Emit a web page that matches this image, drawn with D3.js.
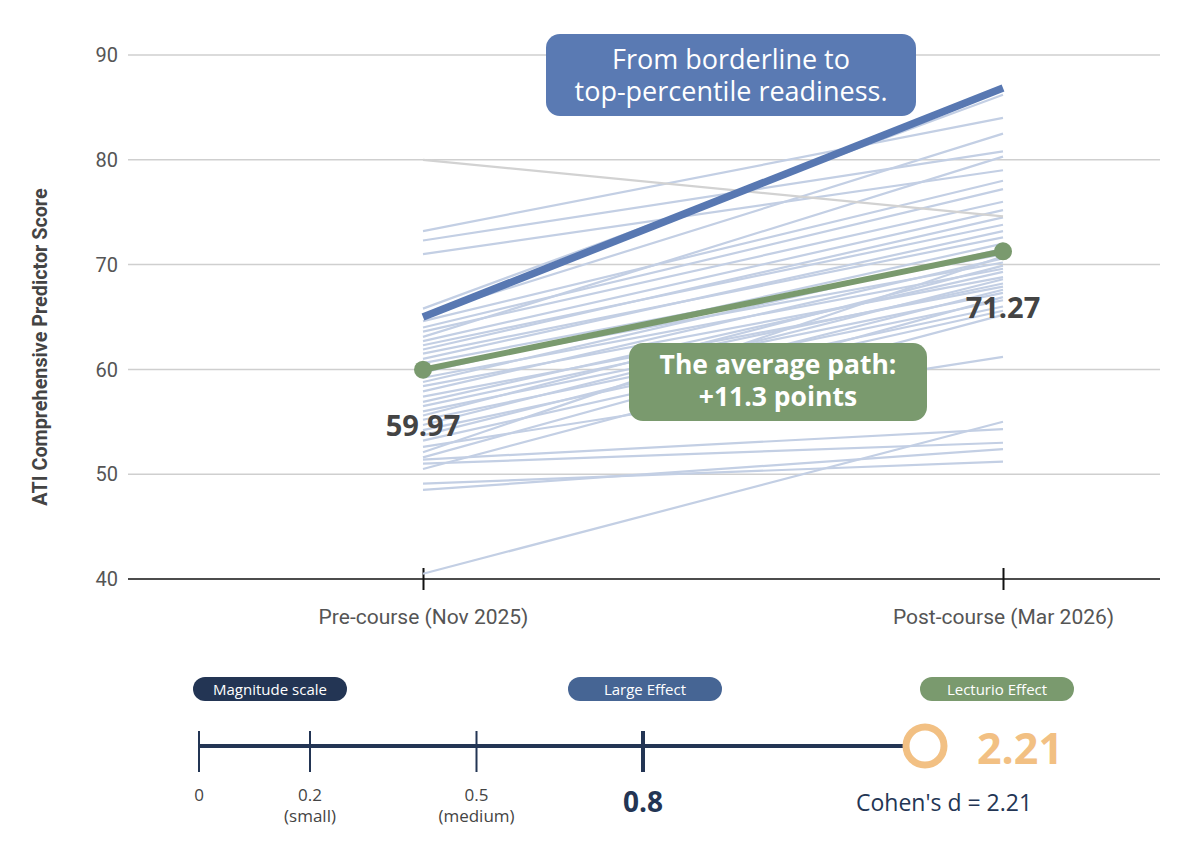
<!DOCTYPE html>
<html>
<head>
<meta charset="utf-8">
<script src="https://cdn.jsdelivr.net/npm/d3@7"></script>
<style>
  body { margin: 0; background: #fff; }
  svg { display: block; }
</style>
</head>
<body>
<svg id="chart" width="1189" height="849"></svg>
<script>
"use strict";

/*** DATA ***/

// time points
var periods = ["Pre-course (Nov 2025)", "Post-course (Mar 2026)"];

// individual students, pre and post scores
var preScores  = [73.2, 72.3, 71.0, 65.8, 65.2, 64.6, 64.0, 63.6, 63.1, 62.7,
                  62.3, 61.9, 61.5, 61.0, 60.6, 60.1, 59.7, 59.2, 58.8, 58.4,
                  57.9, 57.4, 56.9, 56.5, 56.0, 55.6, 55.2, 54.7, 54.2, 53.7,
                  53.2, 52.6, 52.1, 51.6, 51.0, 50.5, 49.1, 48.5, 40.5, 51.4];
var postScores = [84.0, 80.8, 79.0, 86.2, 82.5, 78.0, 77.2, 76.0, 80.3, 75.2,
                  73.8, 74.5, 72.6, 73.2, 71.0, 70.2, 72.0, 69.6, 71.5, 68.8,
                  70.6, 67.9, 69.3, 68.2, 67.3, 69.9, 66.6, 68.6, 66.0, 67.6,
                  65.6, 61.2, 70.8, 66.9, 53.0, 65.2, 51.2, 52.4, 55.0, 54.3];

// the one student who went down
var declined = [80.0, 74.6];
// highlighted student
var highlight = [65.0, 86.85];
// group means
var means = [59.97, 71.27];

var yTicks = [40, 50, 60, 70, 80, 90];

// effect size scale
var effectTicks = [0, 0.2, 0.5, 0.8];
var effectTickLabels = ["0", "0.2", "0.5", "0.8"];
var effectTickSub = ["", "(small)", "(medium)", ""];
var cohensD = 2.21;

/*** SETUP ***/

var svg = d3.select("#chart");

var x = d3.scalePoint().domain(periods).range([423, 1003]);
var y = d3.scaleLinear().domain([40, 90]).range([579, 55]);

var gridLeft = 128, gridRight = 1160;

// gridlines
svg.append("g").selectAll("line")
  .data(yTicks.filter(function(d) { return d > 40; }))
  .enter().append("line")
  .attr("x1", gridLeft).attr("x2", gridRight)
  .attr("y1", function(d) { return y(d); })
  .attr("y2", function(d) { return y(d); })
  .attr("stroke", "#cfcfcf").attr("stroke-width", 1.5);

// y tick labels
svg.append("g").selectAll("text")
  .data(yTicks)
  .enter().append("text")
  .attr("x", 118)
  .attr("y", function(d) { return y(d); })
  .attr("dy", "0.36em")
  .attr("text-anchor", "end")
  .attr("font-family", "Roboto, sans-serif")
  .attr("font-size", "20px")
  .attr("fill", "#555")
  .text(function(d) { return d; });

// y axis title
svg.append("text")
  .attr("transform", "translate(47," + ((y(40) + y(90)) / 2 + 30) + ") rotate(-90)")
  .attr("text-anchor", "middle")
  .attr("font-family", "Roboto, sans-serif")
  .attr("font-weight", "bold")
  .attr("font-size", "19.8px")
  .attr("fill", "#444")
  .text("ATI Comprehensive Predictor Score");

// bottom axis
var xAxis = d3.axisBottom(x).tickSize(11).tickSizeOuter(0).tickPadding(19);
var xg = svg.append("g")
  .attr("transform", "translate(0," + y(40) + ")")
  .call(xAxis);
xg.select(".domain").remove();
xg.insert("line", ":first-child")
  .attr("x1", gridLeft).attr("x2", gridRight)
  .attr("stroke", "#111").attr("stroke-width", 1.5);
xg.selectAll(".tick line")
  .attr("y1", -11)
  .attr("stroke", "#111").attr("stroke-width", 2);
xg.selectAll(".tick text")
  .attr("font-family", "Roboto, sans-serif")
  .attr("font-size", "21px")
  .attr("fill", "#555");

// student lines
var students = preScores.map(function(p, i) { return [p, postScores[i]]; });
var line = d3.line()
  .x(function(d, i) { return x(periods[i]); })
  .y(function(d) { return y(d); });

svg.append("g").selectAll("path")
  .data(students)
  .enter().append("path")
  .attr("d", line)
  .attr("fill", "none")
  .attr("stroke", "#c3cfe4")
  .attr("stroke-width", 2.2);

svg.append("path")
  .attr("d", line(declined))
  .attr("fill", "none")
  .attr("stroke", "#d2d2d2")
  .attr("stroke-width", 2.2);

// highlight line
svg.append("path")
  .attr("d", line(highlight))
  .attr("fill", "none")
  .attr("stroke", "#5878b2")
  .attr("stroke-width", 7.5);

// mean line
svg.append("path")
  .attr("d", line(means))
  .attr("fill", "none")
  .attr("stroke", "#7a9a6e")
  .attr("stroke-width", 6);

svg.append("g").selectAll("circle")
  .data(means)
  .enter().append("circle")
  .attr("cx", function(d, i) { return x(periods[i]); })
  .attr("cy", function(d) { return y(d); })
  .attr("r", 9)
  .attr("fill", "#7a9a6e");

// mean value labels
svg.append("g").selectAll("text")
  .data(means)
  .enter().append("text")
  .attr("x", function(d, i) { return x(periods[i]); })
  .attr("y", function(d, i) { return i == 0 ? y(d) + 66 : y(d) + 67; })
  .attr("text-anchor", "middle")
  .attr("font-family", "'Open Sans', sans-serif")
  .attr("font-weight", "bold")
  .attr("font-size", "29px")
  .attr("fill", "#444")
  .text(function(d) { return d.toFixed(2); });

// callout boxes
var callout = function(cx, top, w, h, fill, lines, weight, size, base) {
  var g = svg.append("g");
  g.append("rect")
    .attr("x", cx - w / 2).attr("y", top)
    .attr("width", w).attr("height", h)
    .attr("rx", 14)
    .attr("fill", fill);
  g.selectAll("text")
    .data(lines)
    .enter().append("text")
    .attr("x", cx)
    .attr("y", function(d, i) { return top + base + i * 32; })
    .attr("text-anchor", "middle")
    .attr("font-family", "'Open Sans', sans-serif")
    .attr("font-weight", weight)
    .attr("font-size", size)
    .attr("fill", "#fff")
    .text(function(d) { return d; });
};

callout(731, 34, 370, 82, "#5a7ab3", ["From borderline to", "top-percentile readiness."], "normal", "27px", 35);
callout(778, 343, 298, 78, "#7a9a6e", ["The average path:", "+11.3 points"], "bold", "26.5px", 31);

/*** EFFECT SIZE SCALE ***/

var ex = d3.scaleLinear().domain([0, 0.8, cohensD]).range([199, 643, 925]);
var ey = 746;

svg.append("line")
  .attr("x1", ex(0)).attr("x2", ex(cohensD))
  .attr("y1", ey).attr("y2", ey)
  .attr("stroke", "#233554").attr("stroke-width", 4);

svg.append("g").selectAll("line")
  .data(effectTicks)
  .enter().append("line")
  .attr("x1", function(d) { return ex(d); })
  .attr("x2", function(d) { return ex(d); })
  .attr("y1", ey - 15).attr("y2", ey + 26)
  .attr("stroke", "#233554")
  .attr("stroke-width", function(d) { return d == 0.8 ? 4 : 2; });

svg.append("g").selectAll("text")
  .data(effectTicks)
  .enter().append("text")
  .attr("x", function(d) { return ex(d); })
  .attr("y", function(d) { return d == 0.8 ? 812 : 801; })
  .attr("text-anchor", "middle")
  .attr("font-family", "'Open Sans', sans-serif")
  .attr("font-size", function(d) { return d == 0.8 ? "28px" : "17px"; })
  .attr("font-weight", function(d) { return d == 0.8 ? "bold" : "normal"; })
  .attr("fill", function(d) { return d == 0.8 ? "#233554" : "#444"; })
  .text(function(d, i) { return effectTickLabels[i]; });

svg.append("g").selectAll("text")
  .data(effectTicks)
  .enter().append("text")
  .attr("x", function(d) { return ex(d); })
  .attr("y", 822)
  .attr("text-anchor", "middle")
  .attr("font-family", "'Open Sans', sans-serif")
  .attr("font-size", "17px")
  .attr("fill", "#444")
  .text(function(d, i) { return effectTickSub[i]; });

// marker for cohen's d
svg.append("circle")
  .attr("cx", ex(cohensD)).attr("cy", ey)
  .attr("r", 19)
  .attr("fill", "#fff")
  .attr("stroke", "#f2c083")
  .attr("stroke-width", 7);

svg.append("text")
  .attr("x", ex(cohensD) + 52).attr("y", ey + 18)
  .attr("font-family", "'Open Sans', sans-serif")
  .attr("font-weight", "bold")
  .attr("font-size", "43px")
  .attr("fill", "#f2c083")
  .text(cohensD.toFixed(2));

svg.append("text")
  .attr("x", 944).attr("y", 811)
  .attr("text-anchor", "middle")
  .attr("font-family", "'Open Sans', sans-serif")
  .attr("font-size", "23px")
  .attr("fill", "#233554")
  .text("Cohen's d = " + cohensD.toFixed(2));

// pills
var pill = function(cx, label, fill) {
  var g = svg.append("g");
  g.append("rect")
    .attr("x", cx - 77).attr("y", 677)
    .attr("width", 154).attr("height", 24)
    .attr("rx", 12)
    .attr("fill", fill);
  g.append("text")
    .attr("x", cx).attr("y", 694.5)
    .attr("text-anchor", "middle")
    .attr("font-family", "'Open Sans', sans-serif")
    .attr("font-size", "15px")
    .attr("fill", "#fff")
    .text(label);
};

pill(270, "Magnitude scale", "#233554");
pill(645, "Large Effect", "#466594");
pill(997, "Lecturio Effect", "#7a9a6e");

</script>
</body>
</html>
